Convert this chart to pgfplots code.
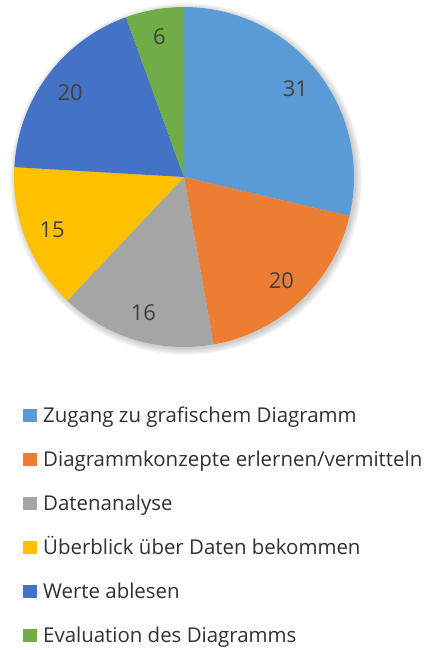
\documentclass[border=0pt]{standalone}
\usepackage{pgfplots}
\pgfplotsset{compat=1.18}
\usepackage{pgfplotstable}
\usepackage{fontspec}
\setmainfont{Open Sans}
\definecolor{c0}{HTML}{5B9BD5}
\definecolor{c1}{HTML}{ED7D31}
\definecolor{c2}{HTML}{A5A5A5}
\definecolor{c3}{HTML}{FFC000}
\definecolor{c4}{HTML}{4472C4}
\definecolor{c5}{HTML}{70AD47}
\definecolor{txt}{HTML}{404040}
\definecolor{legtxt}{HTML}{303030}
\pgfplotstableread{
value label
31 {Zugang zu grafischem Diagramm}
20 {Diagrammkonzepte erlernen/vermitteln}
16 {Datenanalyse}
15 {Überblick über Daten bekommen}
20 {Werte ablesen}
6 {Evaluation des Diagramms}
}\piedata
\begin{document}
\begin{tikzpicture}
% totals and angles
\def\total{0}
\pgfplotsforeachungrouped \i in {0,...,5}{%
  \pgfplotstablegetelem{\i}{value}\of\piedata
  \pgfmathsetmacro\total{\total+\pgfplotsretval}%
}
\def\cum{0}
\pgfplotsforeachungrouped \i in {0,...,5}{%
  \pgfplotstablegetelem{\i}{value}\of\piedata
  \let\myv\pgfplotsretval
  \expandafter\let\csname val\i\endcsname\myv
  \pgfplotstablegetelem{\i}{label}\of\piedata
  \expandafter\let\csname lab\i\endcsname\pgfplotsretval
  \pgfmathsetmacro\mys{90-\cum/\total*360}%
  \pgfmathsetmacro\cum{\cum+\myv}%
  \pgfmathsetmacro\mye{90-\cum/\total*360}%
  \pgfmathsetmacro\mym{(\mys+\mye)/2}%
  \expandafter\let\csname angS\i\endcsname\mys
  \expandafter\let\csname angE\i\endcsname\mye
  \expandafter\let\csname angM\i\endcsname\mym
}
\begin{axis}[
  scale only axis, width=432bp, height=650bp,
  xmin=0, xmax=432, ymin=0, ymax=650, y dir=reverse,
  hide axis, clip=false,
]
\path (axis cs:0,0) (axis cs:432,650);
% soft shadow
\pgfplotsinvokeforeach{0,1,2,3,4,5}{
  \fill[black, opacity=0.035] (axis cs:186,179) circle[radius={170bp+#1*1.2bp}];
}
\pgfplotsinvokeforeach{0,...,5}{
  \fill[c#1] (axis cs:184,177) -- ++(\csname angS#1\endcsname:170bp)
    arc[start angle=\csname angS#1\endcsname, end angle=\csname angE#1\endcsname, radius=170bp] -- cycle;
}
\pgfplotsinvokeforeach{0,...,5}{
  \path (axis cs:184,177) ++(\csname angM#1\endcsname:142bp)
    node[font=\fontsize{22}{26}\selectfont, text=txt] {\csname val#1\endcsname};
}
% legend
\pgfplotsinvokeforeach{0,...,5}{
  \fill[c#1] (axis cs:23,{409+#1*44}) rectangle (axis cs:37,{422+#1*44});
  \node[anchor=base west, inner sep=0pt, font=\fontsize{20.5}{24}\selectfont, text=legtxt]
    at (axis cs:43,{422+#1*44}) {\csname lab#1\endcsname};
}
\end{axis}
\end{tikzpicture}
\end{document}
